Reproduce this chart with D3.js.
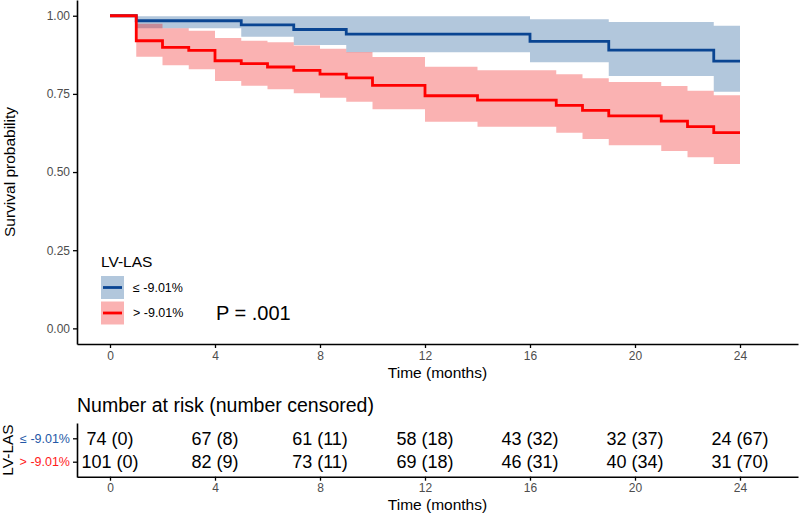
<!DOCTYPE html>
<html><head><meta charset="utf-8">
<script src="https://cdn.jsdelivr.net/npm/d3@7"></script>
<style>
body{margin:0;background:#fff}
svg{display:block;font-family:"Liberation Sans",Arial,Helvetica,sans-serif}
</style>
</head><body>
<svg id="chart" width="800" height="514"></svg>
<script>
// ---------- DATA ----------
const groups = ["≤ -9.01%", "> -9.01%"];
const groupColors = ["#00468B", "#ED0000"];
const lineColors = ["#0A4592", "#FF0000"];
const labelColors = ["#2457A6", "#FF1A1A"];

// group 1: ≤ -9.01%
const lowTimes = [0, 1, 5, 7, 9, 16, 19, 23, 24];
const lowSurv  = [1, 0.984, 0.971, 0.956, 0.941, 0.918, 0.890, 0.855, 0.855];
const lowUpper = [1, 0.998, 0.998, 0.998, 0.998, 0.989, 0.980, 0.968, 0.968];
const lowLower = [1, 0.960, 0.933, 0.906, 0.883, 0.851, 0.807, 0.757, 0.757];

// group 2: > -9.01%
const highTimes = [0, 1, 2, 3, 4, 5, 6, 7, 8, 9, 10, 12, 14, 17, 18, 19, 21, 22, 23, 24];
const highSurv  = [1, 0.920, 0.899, 0.889, 0.856, 0.847, 0.836, 0.825, 0.813, 0.801, 0.777, 0.744, 0.730, 0.713, 0.697, 0.680, 0.663, 0.645, 0.626, 0.626];
const highUpper = [1, 0.974, 0.960, 0.952, 0.929, 0.920, 0.915, 0.905, 0.894, 0.884, 0.868, 0.837, 0.826, 0.813, 0.800, 0.788, 0.775, 0.760, 0.746, 0.746];
const highLower = [1, 0.869, 0.842, 0.829, 0.791, 0.776, 0.765, 0.752, 0.738, 0.725, 0.701, 0.661, 0.645, 0.626, 0.606, 0.586, 0.567, 0.547, 0.526, 0.526];

const xTicks = [0, 4, 8, 12, 16, 20, 24];
const yTicks = [0, 0.25, 0.5, 0.75, 1];

const riskTimes = [0, 4, 8, 12, 16, 20, 24];
const atRiskLow  = [74, 67, 61, 58, 43, 32, 24];
const censLow    = [0, 8, 11, 18, 32, 37, 67];
const atRiskHigh = [101, 82, 73, 69, 46, 40, 31];
const censHigh   = [0, 9, 11, 18, 31, 34, 70];

const pValueText = "P = .001";

// ---------- BUILD ----------
const svg = d3.select("#chart");
const zip = (t, s, u, l) => t.map((d, i) => ({t: d, s: s[i], u: u[i], l: l[i]}));
const series = [
  zip(lowTimes, lowSurv, lowUpper, lowLower),
  zip(highTimes, highSurv, highUpper, highLower)
];

const x = d3.scaleLinear().domain([-1.2571, 26.2095]).range([77, 798]);
const y = d3.scaleLinear().domain([-0.05, 1.05]).range([344, 0.1]);

const area = d3.area().curve(d3.curveStepAfter)
  .x(d => x(d.t)).y0(d => y(d.l)).y1(d => y(d.u));
const line = d3.line().curve(d3.curveStepAfter)
  .x(d => x(d.t)).y(d => y(d.s));

const gPlot = svg.append("g");
series.forEach((s, i) => {
  gPlot.append("path").attr("d", area(s))
    .attr("fill", groupColors[i]).attr("fill-opacity", 0.3);
});
series.forEach((s, i) => {
  gPlot.append("path").attr("d", line(s))
    .attr("fill", "none").attr("stroke", lineColors[i])
    .attr("stroke-width", 2.8);
});

function styleAxis(g) {
  g.select(".domain").attr("stroke", "#000").attr("stroke-width", 1.6);
  g.selectAll(".tick line").attr("stroke", "#000").attr("stroke-width", 1.3);
  g.selectAll(".tick text").attr("fill", "#4D4D4D").style("font-size", "12px")
    .style("font-family", '"Liberation Sans",Arial,sans-serif');
}

// main axes
svg.append("g").attr("transform", "translate(0,344)")
  .call(d3.axisBottom(x).tickValues(xTicks).tickSize(4).tickSizeOuter(0).tickPadding(3))
  .call(styleAxis);
svg.append("g").attr("transform", "translate(77,0)")
  .call(d3.axisLeft(y).tickValues(yTicks).tickFormat(d3.format(".2f")).tickSize(4).tickSizeOuter(0).tickPadding(3))
  .call(styleAxis);

svg.append("text").attr("x", 437.5).attr("y", 378).attr("text-anchor", "middle")
  .style("font-size", "15.5px").attr("fill", "#000").text("Time (months)");
svg.append("text").attr("transform", "translate(15,172) rotate(-90)").attr("text-anchor", "middle")
  .style("font-size", "15.5px").attr("fill", "#000").text("Survival probability");

// legend
const lg = svg.append("g");
lg.append("text").attr("x", 101).attr("y", 267).style("font-size", "15.5px").attr("fill", "#000").text("LV-LAS");
groups.forEach((g, i) => {
  const top = 276 + i * 25.5;
  lg.append("rect").attr("x", 101).attr("y", top).attr("width", 23).attr("height", 23)
    .attr("fill", groupColors[i]).attr("fill-opacity", 0.3);
  lg.append("line").attr("x1", 103).attr("x2", 122).attr("y1", top + 11.5).attr("y2", top + 11.5)
    .attr("stroke", lineColors[i]).attr("stroke-width", 2.8);
  lg.append("text").attr("x", 133).attr("y", top + 11.5).attr("dy", "0.35em")
    .style("font-size", "12.5px").attr("fill", "#000").text(g);
});
svg.append("text").attr("x", 216).attr("y", 320).style("font-size", "20px").attr("fill", "#000").text(pValueText);

// ---------- RISK TABLE ----------
svg.append("text").attr("x", 77).attr("y", 412).style("font-size", "19.5px").attr("fill", "#000")
  .text("Number at risk (number censored)");

const yT = d3.scalePoint().domain(groups).range([423, 477]).padding(0.654);
const riskRows = [
  riskTimes.map((t, i) => ({t, label: `${atRiskLow[i]} (${censLow[i]})`})),
  riskTimes.map((t, i) => ({t, label: `${atRiskHigh[i]} (${censHigh[i]})`}))
];
riskRows.forEach((row, r) => {
  svg.append("g").selectAll("text").data(row).join("text")
    .attr("x", d => x(d.t)).attr("y", yT(groups[r])).attr("dy", "0.36em")
    .attr("text-anchor", "middle").style("font-size", "18px").attr("fill", "#000")
    .text(d => d.label);
});

svg.append("g").attr("transform", "translate(0,476.7)")
  .call(d3.axisBottom(x).tickValues(xTicks).tickSize(4).tickSizeOuter(0).tickPadding(3))
  .call(styleAxis);
const gty = svg.append("g").attr("transform", "translate(77,0)")
  .call(d3.axisLeft(yT).tickSize(4).tickSizeOuter(0).tickPadding(3))
  .call(styleAxis);
gty.selectAll(".tick text").style("font-size", "12.5px").attr("fill", (d, i) => labelColors[i]);

svg.append("text").attr("x", 437.5).attr("y", 510).attr("text-anchor", "middle")
  .style("font-size", "15.5px").attr("fill", "#000").text("Time (months)");
svg.append("text").attr("transform", "translate(13,450) rotate(-90)").attr("text-anchor", "middle")
  .style("font-size", "15.5px").attr("fill", "#000").text("LV-LAS");
</script>
</body></html>
